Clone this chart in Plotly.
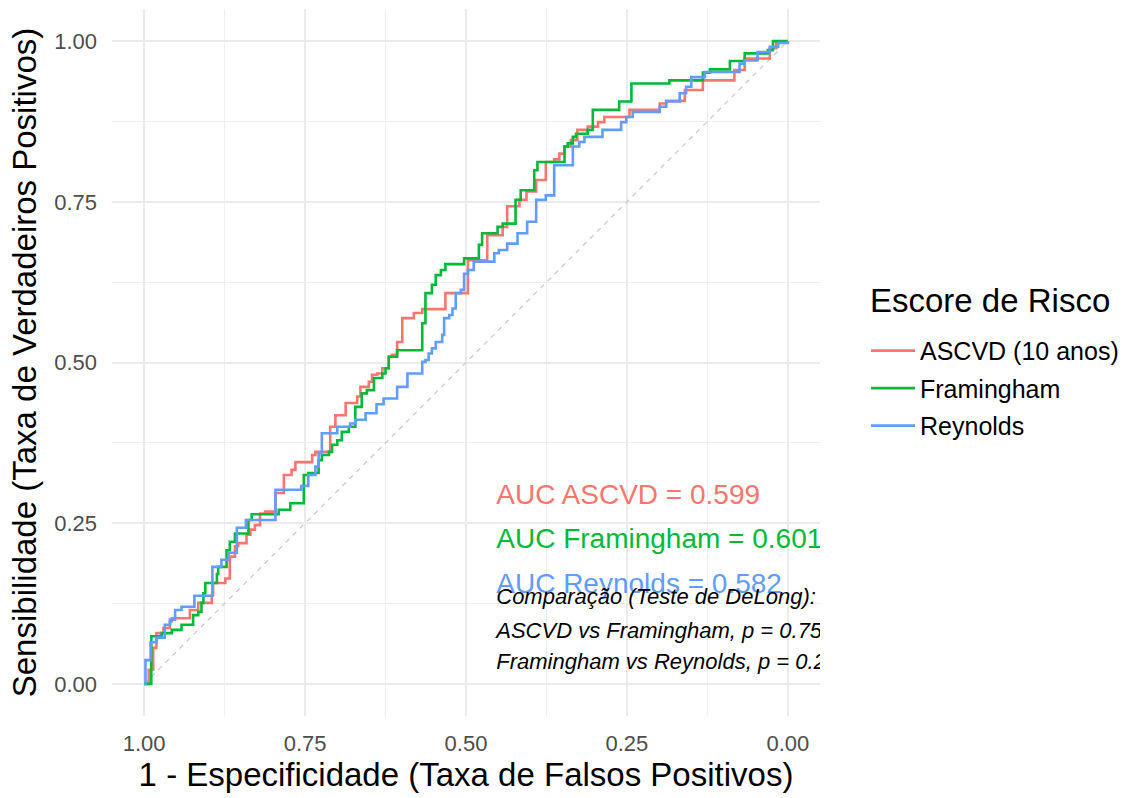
import plotly.graph_objects as go

FONT = "Liberation Sans, Arial, sans-serif"

# ---- data (specificity on reversed x axis, sensitivity on y) ----
ascvd_spec = [1.000, 0.993, 0.986, 0.981, 0.970, 0.960, 0.957, 0.929, 0.916, 0.895, 0.893, 0.874,
              0.867, 0.859, 0.854, 0.841, 0.835, 0.828, 0.820, 0.812, 0.796, 0.783, 0.771, 0.765,
              0.739, 0.734, 0.711, 0.703, 0.687, 0.669, 0.664, 0.651, 0.646, 0.638, 0.630, 0.620,
              0.615, 0.607, 0.599, 0.581, 0.568, 0.532, 0.497, 0.467, 0.443, 0.436, 0.417, 0.406,
              0.391, 0.376, 0.363, 0.355, 0.347, 0.337, 0.327, 0.311, 0.295, 0.285, 0.246, 0.199,
              0.189, 0.160, 0.132, 0.083, 0.067, 0.028, 0.018, 0.000]
ascvd_sens = [0.000, 0.022, 0.056, 0.079, 0.087, 0.097, 0.102, 0.115, 0.126, 0.138, 0.157, 0.164,
              0.198, 0.214, 0.219, 0.232, 0.240, 0.247, 0.265, 0.268, 0.297, 0.325, 0.333, 0.345,
              0.356, 0.361, 0.400, 0.418, 0.437, 0.447, 0.462, 0.470, 0.481, 0.483, 0.491, 0.509,
              0.512, 0.532, 0.569, 0.577, 0.583, 0.608, 0.659, 0.698, 0.711, 0.743, 0.753, 0.766,
              0.784, 0.812, 0.816, 0.825, 0.836, 0.846, 0.862, 0.867, 0.874, 0.882, 0.893, 0.903,
              0.907, 0.924, 0.939, 0.955, 0.973, 0.989, 0.999, 1.000]

fram_spec = [1.000, 0.989, 0.973, 0.957, 0.942, 0.924, 0.916, 0.911, 0.908, 0.905, 0.887, 0.885,
             0.872, 0.867, 0.859, 0.838, 0.833, 0.791, 0.773, 0.752, 0.745, 0.729, 0.724, 0.713,
             0.708, 0.700, 0.693, 0.682, 0.672, 0.662, 0.654, 0.643, 0.630, 0.625, 0.620, 0.607,
             0.568, 0.563, 0.553, 0.547, 0.539, 0.532, 0.503, 0.480, 0.475, 0.451, 0.443, 0.423,
             0.415, 0.394, 0.389, 0.347, 0.342, 0.334, 0.329, 0.311, 0.303, 0.262, 0.243, 0.184,
             0.132, 0.121, 0.090, 0.067, 0.031, 0.023, 0.000]
fram_sens = [0.000, 0.074, 0.079, 0.084, 0.092, 0.107, 0.112, 0.126, 0.141, 0.157, 0.171, 0.182,
             0.208, 0.221, 0.234, 0.255, 0.264, 0.271, 0.281, 0.325, 0.328, 0.348, 0.356, 0.361,
             0.372, 0.379, 0.392, 0.400, 0.431, 0.452, 0.457, 0.476, 0.483, 0.491, 0.509, 0.519,
             0.561, 0.608, 0.621, 0.636, 0.644, 0.653, 0.662, 0.683, 0.701, 0.711, 0.716, 0.753,
             0.768, 0.799, 0.812, 0.836, 0.841, 0.851, 0.856, 0.862, 0.893, 0.906, 0.934, 0.939,
             0.951, 0.956, 0.969, 0.981, 0.986, 1.000, 1.000]

reyn_spec = [1.000, 0.998, 0.990, 0.981, 0.968, 0.960, 0.952, 0.942, 0.922, 0.894, 0.880, 0.869,
             0.856, 0.842, 0.796, 0.756, 0.745, 0.734, 0.729, 0.724, 0.700, 0.680, 0.672, 0.656,
             0.639, 0.628, 0.607, 0.591, 0.568, 0.563, 0.558, 0.553, 0.547, 0.537, 0.534, 0.526,
             0.521, 0.516, 0.508, 0.503, 0.497, 0.488, 0.456, 0.449, 0.436, 0.420, 0.405, 0.391,
             0.376, 0.363, 0.334, 0.324, 0.316, 0.288, 0.259, 0.251, 0.241, 0.199, 0.189, 0.168,
             0.158, 0.150, 0.129, 0.075, 0.067, 0.047, 0.028, 0.015, 0.000]
reyn_sens = [0.000, 0.037, 0.065, 0.072, 0.092, 0.100, 0.115, 0.120, 0.137, 0.182, 0.193, 0.204,
             0.243, 0.255, 0.302, 0.308, 0.325, 0.338, 0.359, 0.390, 0.400, 0.405, 0.411, 0.421,
             0.435, 0.444, 0.462, 0.483, 0.501, 0.504, 0.514, 0.522, 0.532, 0.543, 0.569, 0.574,
             0.584, 0.608, 0.613, 0.638, 0.644, 0.657, 0.670, 0.675, 0.685, 0.701, 0.719, 0.753,
             0.760, 0.807, 0.836, 0.843, 0.851, 0.862, 0.874, 0.882, 0.890, 0.898, 0.906, 0.919,
             0.929, 0.944, 0.952, 0.965, 0.970, 0.983, 0.991, 0.997, 1.000]

series_names = ["ASCVD (10 anos)", "Framingham", "Reynolds"]
series_colors = ["#F8766D", "#00BA38", "#619CFF"]
legend_title = "Escore de Risco"

diag_spec = [1.0, 0.0]
diag_sens = [0.0, 1.0]

auc_labels = ["AUC ASCVD = 0.599", "AUC Framingham = 0.601", "AUC Reynolds = 0.582"]
auc_y = [0.290, 0.222, 0.153]
comp_labels = ["Comparação (Teste de DeLong):",
               "ASCVD vs Framingham, p = 0.75",
               "Framingham vs Reynolds, p = 0.2"]
comp_y = [0.133, 0.080, 0.032]
label_x = 0.453

tick_vals = [0.0, 0.25, 0.5, 0.75, 1.0]
tick_text = ["0.00", "0.25", "0.50", "0.75", "1.00"]
minor_vals = [0.125, 0.375, 0.625, 0.875]

# ---- figure ----
fig = go.Figure()

fig.add_trace(go.Scatter(x=diag_spec, y=diag_sens, mode="lines",
                         line=dict(color="#C8C8C8", width=1.2, dash="5px,5px"),
                         showlegend=False, hoverinfo="skip"))

for name, xs, ys, col in zip(series_names,
                             [ascvd_spec, fram_spec, reyn_spec],
                             [ascvd_sens, fram_sens, reyn_sens],
                             series_colors):
    fig.add_trace(go.Scatter(x=xs, y=ys, mode="lines", name=name, legendgroup=name,
                             line=dict(color=col, width=2.6, shape="hv")))

fig.add_trace(go.Scatter(x=[label_x] * len(auc_labels), y=auc_y, mode="text",
                         text=auc_labels, textposition="middle right",
                         textfont=dict(family=FONT, size=28, color=series_colors),
                         cliponaxis=True, showlegend=False, hoverinfo="skip"))
fig.add_trace(go.Scatter(x=[label_x] * len(comp_labels), y=comp_y, mode="text",
                         text=comp_labels, textposition="middle right",
                         textfont=dict(family=FONT, size=22, color="black", style="italic"),
                         cliponaxis=True, showlegend=False, hoverinfo="skip"))

axis_common = dict(
    tickvals=tick_vals, ticktext=tick_text, showgrid=True, gridcolor="#EBEBEB", gridwidth=1.8,
    zeroline=False, showline=False, ticks="", automargin=False,
    tickfont=dict(family=FONT, size=22, color="#4D4D4D"),
    minor=dict(tickvals=minor_vals, showgrid=True, gridcolor="#EFEFEF", gridwidth=1.2, ticks=""),
)

fig.update_layout(
    template="none",
    width=1124, height=798,
    margin=dict(l=112, r=304, t=9, b=82, autoexpand=False),
    paper_bgcolor="white", plot_bgcolor="white",
    font=dict(family=FONT, color="black"),
    hovermode=False,
    xaxis=dict(range=[1.05, -0.05], ticklabelstandoff=12,
               title=dict(text="1 - Especificidade (Taxa de Falsos Positivos)",
                          font=dict(family=FONT, size=33, color="black"), standoff=5),
               **axis_common),
    yaxis=dict(range=[-0.05, 1.05], ticklabelstandoff=14,
               title=dict(text="Sensibilidade (Taxa de Verdadeiros Positivos)",
                          font=dict(family=FONT, size=33, color="black"), standoff=7),
               **axis_common),
    legend=dict(x=1.065, xanchor="left", y=0.549, yanchor="top",
                font=dict(family=FONT, size=25, color="black"),
                tracegroupgap=2, itemwidth=44, bgcolor="rgba(0,0,0,0)", borderwidth=0),
    annotations=[dict(text=legend_title, xref="paper", yref="paper", x=1.0678, y=0.5884,
                      xanchor="left", yanchor="middle", showarrow=False,
                      font=dict(family=FONT, size=33, color="black"))],
)

fig.write_html("out.html")
